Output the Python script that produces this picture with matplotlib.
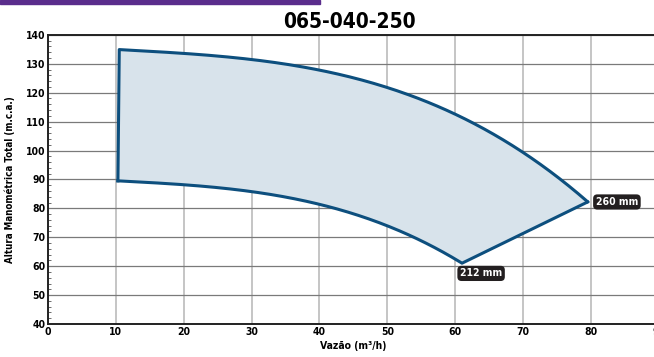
import numpy as np
import matplotlib.pyplot as plt
from matplotlib.patches import Rectangle

plt.rcParams['font.family'] = ['DejaVu Sans']
plt.rcParams['font.stretch'] = 'condensed'

# Curve for 260 mm impeller (upper)
q_260 = [10.5, 20, 30, 40, 50, 60, 70, 79.5]
h_260 = [134.8, 133.8, 131.4, 127.8, 121.6, 112.6, 99.5, 82.2]

# Curve for 212 mm impeller (lower)
q_212 = [10.3, 20, 30, 40, 50, 55, 61]
h_212 = [89.5, 88.2, 85.8, 81.3, 74.0, 68.8, 61.0]

labels = ["260 mm", "212 mm"]
title = "065-040-250"

line_c = "#0d4f7e"
fill_c = "#d8e3eb"

fig = plt.figure(figsize=(6.54, 3.57), dpi=100)
ax = fig.add_axes([0.0734, 0.0924, 0.934, 0.81])

# smooth curves (cubic fit through the read points)
xu = np.linspace(q_260[0], q_260[-1], 200)
yu = np.polyval(np.polyfit(q_260, h_260, 3), xu)
xl = np.linspace(q_212[0], q_212[-1], 200)
yl = np.polyval(np.polyfit(q_212, h_212, 3), xl)

poly_x = np.concatenate([xu, [q_212[-1]], xl[::-1]])
poly_y = np.concatenate([yu, [h_212[-1]], yl[::-1]])
ax.fill(poly_x, poly_y, color=fill_c, zorder=2)
ax.plot(np.concatenate([[q_212[0]], xu]), np.concatenate([[h_212[0]], yu]), color=line_c, lw=2.2, zorder=3)
ax.plot(np.concatenate([xl, [q_260[-1]]]), np.concatenate([yl, [h_260[-1]]]), color=line_c, lw=2.2, zorder=3)

ax.set_xlim(0, 90)
ax.set_ylim(40, 140)
ax.set_xticks(range(0, 91, 10))
ax.set_yticks(range(40, 141, 10))
ax.set_yticks(range(40, 141, 2), minor=True)
ax.tick_params(axis='y', which='minor', length=2, direction='in', color='#555555')
ax.tick_params(axis='both', which='major', length=0, labelsize=7.5, pad=2)
for lab in ax.get_xticklabels() + ax.get_yticklabels():
    lab.set_fontweight('bold')

ax.xaxis.grid(True, color='#b5b5b5', lw=1.1, zorder=0)
ax.yaxis.grid(True, color='#7a7a7a', lw=0.9, zorder=0)
ax.set_axisbelow(True)
for s in ['left', 'bottom', 'top']:
    ax.spines[s].set_color('#222222')
    ax.spines[s].set_linewidth(1.4)
ax.spines['right'].set_visible(False)

ax.set_xlabel("Vazão (m³/h)", fontsize=7.5, fontweight='bold', labelpad=3)
ax.set_ylabel("Altura Manométrica Total (m.c.a.)", fontsize=7, fontweight='bold', labelpad=8)

fig.text(0.535, 0.937, title, ha='center', va='center', fontsize=15, fontweight='bold')

box = dict(boxstyle='round,pad=0.25,rounding_size=0.4', fc='#231f20', ec='none')
ax.text(q_260[-1] + 1.2, h_260[-1], labels[0], color='white', fontsize=7.5, fontweight='bold',
        ha='left', va='center', bbox=box, zorder=5)
ax.text(q_212[-1] - 0.3, h_212[-1] - 3.5, labels[1], color='white', fontsize=7.5, fontweight='bold',
        ha='left', va='center', bbox=box, zorder=5)

# purple header bar
fig.patches.append(Rectangle((0, 0.989), 0.489, 0.011, transform=fig.transFigure, color='#5a2d8c'))

fig.savefig("out.png", dpi=100)
